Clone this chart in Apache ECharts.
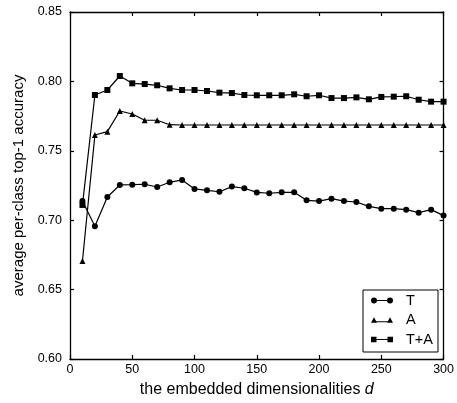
<!DOCTYPE html>
<html><head><meta charset="utf-8">
<script src="https://cdn.jsdelivr.net/npm/echarts@6/dist/echarts.min.js"></script>
<style>html,body{margin:0;padding:0;background:#fff}#c{width:457px;height:403px}</style>
</head><body><div id="c"></div>
<script>
const dims = [10,20,30,40,50,60,70,80,90,100,110,120,130,140,150,160,170,180,190,200,210,220,230,240,250,260,270,280,290,300];
const seriesT = [0.7138,0.6956,0.7167,0.7254,0.7256,0.7259,0.7239,0.7273,0.7290,0.7225,0.7215,0.7205,0.7242,0.7230,0.7200,0.7194,0.7201,0.7201,0.7143,0.7138,0.7155,0.7138,0.7131,0.7100,0.7083,0.7083,0.7076,0.7054,0.7076,0.7033];
const seriesA = [0.6706,0.7614,0.7638,0.7787,0.7765,0.7720,0.7720,0.7688,0.7686,0.7686,0.7686,0.7686,0.7686,0.7686,0.7686,0.7686,0.7686,0.7686,0.7686,0.7686,0.7686,0.7686,0.7686,0.7686,0.7686,0.7686,0.7686,0.7686,0.7686,0.7686];
const seriesTA = [0.7110,0.7902,0.7938,0.8039,0.7986,0.7981,0.7972,0.7950,0.7938,0.7938,0.7931,0.7919,0.7916,0.7902,0.7900,0.7900,0.7900,0.7907,0.7893,0.7900,0.7880,0.7880,0.7885,0.7871,0.7888,0.7890,0.7893,0.7868,0.7854,0.7854];
const names = ['T','A','T+A'];
const xTicks = {min:0, max:300, interval:50};
const yTicks = {min:0.60, max:0.85, interval:0.05};

const font = 'Liberation Sans, Arial, Helvetica, sans-serif';
const pair = a => dims.map((d,i)=>[d,a[i]]);
const iconT = 'path://M0,3a3,3 0 1,1 6,0a3,3 0 1,1 -6,0Z M6,2.4L16,2.4L16,3.6L6,3.6Z M16,3a3,3 0 1,1 6,0a3,3 0 1,1 -6,0Z';
const iconA = 'path://M0,6L3,0.5L6,6Z M5,4.4L17,4.4L17,5.6L5,5.6Z M16,6L19,0.5L22,6Z';
const iconTA = 'path://M0,0.5L5.5,0.5L5.5,6L0,6Z M5.5,2.65L16.5,2.65L16.5,3.85L5.5,3.85Z M16.5,0.5L22,0.5L22,6L16.5,6Z';

const axisBase = {
  type:'value', axisLine:{show:true,onZero:false,lineStyle:{color:'#000',width:1.3}},
  axisTick:{show:true,inside:true,length:4,lineStyle:{color:'#000',width:1.2}},
  splitLine:{show:false}
};
const chart = echarts.init(document.getElementById('c'));
chart.setOption({
  animation:false,
  backgroundColor:'#fff',
  grid:{left:70,right:13,top:12,bottom:44},
  legend:{
    orient:'vertical', left:363, top:290,
    padding:[3,5,5,8], itemGap:4.5, itemWidth:22, itemHeight:6,
    borderColor:'#000', borderWidth:1, backgroundColor:'#fff',
    textStyle:{fontFamily:font,fontSize:14.5,color:'#000',padding:[0,0,0,8]},
    data:[{name:'T',icon:iconT},{name:'A',icon:iconA},{name:'T+A',icon:iconTA}]
  },
  xAxis:[
    Object.assign({}, axisBase, {position:'bottom', min:xTicks.min, max:xTicks.max, interval:xTicks.interval,
      axisLabel:{color:'#000',fontFamily:font,fontSize:12.5,margin:4},
      name:'the embedded dimensionalities {i|d}', nameLocation:'middle', nameGap:23,
      nameTextStyle:{color:'#000',fontFamily:font,fontSize:16,rich:{i:{fontStyle:'italic',fontFamily:font,fontSize:16,color:'#000'}}}}),
    Object.assign({}, axisBase, {position:'top', min:xTicks.min, max:xTicks.max, interval:xTicks.interval, axisLabel:{show:false}})
  ],
  yAxis:[
    Object.assign({}, axisBase, {position:'left', min:yTicks.min, max:yTicks.max, interval:yTicks.interval,
      axisLabel:{color:'#000',fontFamily:font,fontSize:12.5,margin:8,formatter:v=>v.toFixed(2)},
      name:'average per-class top-1 accuracy', nameLocation:'middle', nameGap:41, nameRotate:90,
      nameTextStyle:{color:'#000',fontFamily:font,fontSize:15}}),
    Object.assign({}, axisBase, {position:'right', min:yTicks.min, max:yTicks.max, interval:yTicks.interval, axisLabel:{show:false}})
  ],
  series:[
    {name:names[0], type:'line', data:pair(seriesT), symbol:'circle', symbolSize:6, color:'#000',
      lineStyle:{color:'#000',width:1.2}, itemStyle:{color:'#000'}},
    {name:names[1], type:'line', data:pair(seriesA), symbol:'triangle', symbolSize:6, color:'#000',
      lineStyle:{color:'#000',width:1.2}, itemStyle:{color:'#000'}},
    {name:names[2], type:'line', data:pair(seriesTA), symbol:'rect', symbolSize:6, color:'#000',
      lineStyle:{color:'#000',width:1.2}, itemStyle:{color:'#000'}}
  ]
});
</script></body></html>
